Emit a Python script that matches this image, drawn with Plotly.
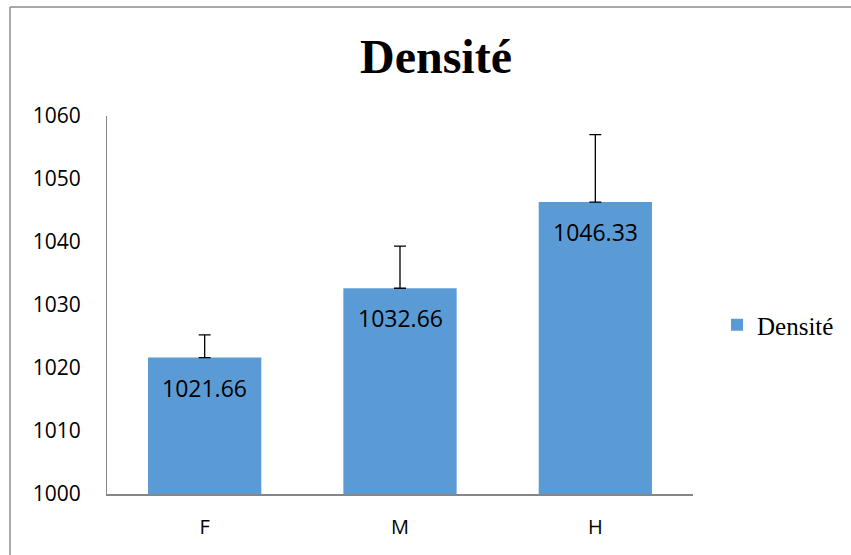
import plotly.graph_objects as go

categories = ["F", "M", "H"]
values = [1021.66, 1032.66, 1046.33]
errors_plus = [3.6, 6.7, 10.7]
value_labels = ["1021.66", "1032.66", "1046.33"]
series_name = "Densité"
y_ticks = [1000, 1010, 1020, 1030, 1040, 1050, 1060]

W, H = 851, 555
L, R, T, B = 107, 158, 116, 61
pw = W - L - R
ph = H - T - B

def px_x(x):
    return (x - L) / pw

def px_y(y):
    return (H - B - y) / ph

fig = go.Figure()
fig.add_trace(go.Bar(
    x=categories, y=values, name=series_name,
    width=0.58,
    marker=dict(color="#5b9bd5", line=dict(width=0)),
    error_y=dict(type="data", symmetric=False, array=errors_plus,
                 arrayminus=[0, 0, 0], color="#000000", thickness=1.3, width=6),
    showlegend=True,
))

annotations = [
    dict(x=c, y=v, xref="x", yref="y", text=t, showarrow=False,
         yanchor="middle", yshift=-30,
         font=dict(family="Open Sans, Liberation Sans, sans-serif", size=23, color="#000000"))
    for c, v, t in zip(categories, values, value_labels)
]

fig.update_layout(
    width=W, height=H,
    margin=dict(l=L, r=R, t=T, b=B, pad=0),
    paper_bgcolor="white", plot_bgcolor="white",
    title=dict(text="<b>Densité</b>", x=436 / W, xanchor="center",
               y=1 - 56 / H, yanchor="middle",
               font=dict(family="Liberation Serif, Times New Roman, serif", size=48, color="#000000")),
    showlegend=True,
    legend=dict(x=px_x(717), xanchor="left", y=px_y(325), yanchor="middle",
                font=dict(family="Liberation Serif, Times New Roman, serif", size=25, color="#000000"),
                bgcolor="rgba(0,0,0,0)"),
    xaxis=dict(showline=True, linecolor="#868686", linewidth=1.5, ticks="",
               tickfont=dict(family="Open Sans, Liberation Sans, sans-serif", size=20, color="#000000"),
               showgrid=False, zeroline=False, ticklabelstandoff=14),
    yaxis=dict(range=[1000, 1060], tickvals=y_ticks, showline=True, linecolor="#868686",
               linewidth=1, ticks="", showgrid=False, zeroline=False,
               tickfont=dict(family="Open Sans, Liberation Sans, sans-serif", size=21, color="#000000"),
               ticklabelstandoff=21),
    annotations=annotations,
    shapes=[
        dict(type="line", xref="paper", yref="paper", x0=px_x(10), x1=px_x(851), y0=px_y(7), y1=px_y(7),
             line=dict(color="#8c8c8c", width=1.5)),
        dict(type="line", xref="paper", yref="paper", x0=px_x(10), x1=px_x(10), y0=px_y(7), y1=px_y(555),
             line=dict(color="#8c8c8c", width=1.5)),
    ],
)

fig.write_html("out.html", config={"displayModeBar": False},
               post_script="document.body.style.margin='0px';document.body.style.padding='0px';")
